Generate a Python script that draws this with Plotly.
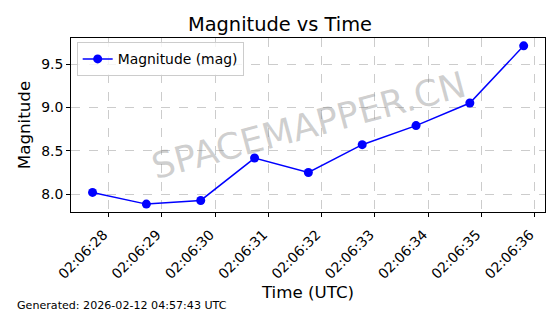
import plotly.graph_objects as go

times = ["2026-02-12 02:06:27.70", "2026-02-12 02:06:28.71", "2026-02-12 02:06:29.73",
         "2026-02-12 02:06:30.74", "2026-02-12 02:06:31.75", "2026-02-12 02:06:32.76",
         "2026-02-12 02:06:33.77", "2026-02-12 02:06:34.78", "2026-02-12 02:06:35.79"]
magnitude = [8.02, 7.885, 7.927, 8.416, 8.25, 8.57, 8.79, 9.05, 9.71]
y_ticks = [8.0, 8.5, 9.0, 9.5]

FONT = "DejaVu Sans"

fig = go.Figure()
fig.add_trace(go.Scatter(
    x=times, y=magnitude, mode="lines+markers", name="Magnitude (mag)",
    line=dict(color="#0000ff", width=1.5),
    marker=dict(color="#0000ff", size=9),
))

axis_common = dict(
    showline=True, linecolor="black", linewidth=1, mirror=True,
    ticks="outside", ticklen=4, tickcolor="black",
    showgrid=True, gridcolor="#cccccc", griddash="dash", gridwidth=1,
    zeroline=False, tickfont=dict(family=FONT, size=13.9, color="black"),
)

fig.update_layout(
    width=560, height=314,
    margin=dict(l=71, r=15, t=38, b=102),
    paper_bgcolor="white", plot_bgcolor="white",
    font=dict(family=FONT, color="black"),
    title=dict(text="Magnitude vs Time", x=0.5, xanchor="center", y=0.924, yanchor="middle",
               font=dict(family=FONT, size=19.4, color="black")),
    showlegend=True,
    legend=dict(x=0.012, y=0.975, xanchor="left", yanchor="top",
                bgcolor="rgba(255,255,255,0.8)", bordercolor="#cccccc", borderwidth=1,
                font=dict(family=FONT, size=13.9, color="black")),
    xaxis=dict(
        axis_common,
        type="date", tickformat="%H:%M:%S", dtick=1000, tick0="2026-02-12 02:06:28",
        tickangle=-45, ticklabelshift=-5, ticklabelstandoff=4,
        range=["2026-02-12 02:06:27.296", "2026-02-12 02:06:36.19"],
        title=dict(text="Time (UTC)", font=dict(family=FONT, size=16.7, color="black"), standoff=3),
    ),
    yaxis=dict(
        axis_common,
        tickvals=y_ticks, ticktext=[f"{v:.1f}" for v in y_ticks],
        range=[7.794, 9.80],
        title=dict(text="Magnitude", font=dict(family=FONT, size=16.7, color="black"), standoff=6),
    ),
)

fig.add_annotation(
    text="SPACEMAPPER.CN", xref="paper", yref="paper", x=0.5, y=0.5,
    showarrow=False, textangle=-15,
    font=dict(family=FONT, size=36, color="rgba(128,128,128,0.38)"),
)

fig.add_annotation(
    text="Generated: 2026-02-12 04:57:43 UTC", xref="paper", yref="paper",
    x=-0.118, y=-0.537, xanchor="left", yanchor="middle", showarrow=False,
    font=dict(family=FONT, size=11.1, color="black"),
)

fig.write_html("out.html")
